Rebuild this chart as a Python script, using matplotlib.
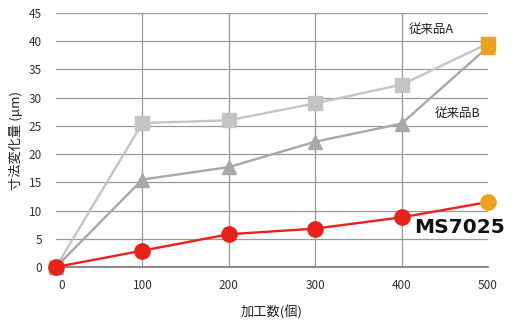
import matplotlib
matplotlib.use("Agg")
import matplotlib.pyplot as plt
import matplotlib.transforms as mtransforms
import numpy as np

plt.rcParams['font.family'] = ['Noto Sans CJK JP', 'DejaVu Sans']

counts = [0, 100, 200, 300, 400, 500]
prod_a = [0, 25.5, 26.0, 29.0, 32.3, 39.6]
prod_b = [0, 15.5, 17.7, 22.2, 25.4, 39.0]
ms7025 = [0, 2.9, 5.8, 6.8, 8.8, 11.5]
yticks = list(range(0, 50, 5))

fig = plt.figure(figsize=(5.3, 3.26), dpi=100)
ax = fig.add_axes([0.1057, 0.181, 0.815, 0.779])

orange = '#f0a020'
for vals, col, mk, ms in [(prod_a, '#c4c4c4', 's', 10),
                           (prod_b, '#a8a8a8', '^', 9.5),
                           (ms7025, '#e8221b', 'o', 11)]:
    ax.plot(counts[:-1], vals[:-1], color=col, lw=1.7, marker=mk, ms=ms,
            clip_on=False, zorder=3)
    ax.plot(counts[-2:], vals[-2:], color=col, lw=1.7, clip_on=False, zorder=3)
    ax.plot(counts[-1], vals[-1], marker=mk, ms=ms, color=orange,
            clip_on=False, zorder=4, ls='none')

ax.set_xlim(0, 500)
ax.set_ylim(0, 45)
ax.set_xticks(counts)
ax.set_yticks(yticks)
ax.grid(True, color='#999999', lw=0.9)
ax.set_axisbelow(True)
xg = ax.get_xgridlines()
xg[0].set_visible(False)
xg[-1].set_visible(False)
for s in ['top', 'right', 'left']:
    ax.spines[s].set_visible(False)
ax.spines['bottom'].set_color('#777777')
ax.spines['bottom'].set_linewidth(1.2)
ax.tick_params(length=0, labelsize=8.5, colors='#333333')
ax.tick_params(axis='x', pad=9)
ax.tick_params(axis='y', pad=10)

# nudge the "0" label a bit right like the original
lbl0 = ax.get_xticklabels()[0]
lbl0.set_transform(lbl0.get_transform() +
                   mtransforms.ScaledTranslation(6 / 100, 0, fig.dpi_scale_trans))

ax.text(0.816, 0.937, '従来品A', transform=ax.transAxes, fontsize=9,
        color='#222222', va='center')
ax.text(0.877, 0.606, '従来品B', transform=ax.transAxes, fontsize=9,
        color='#222222', va='center')
ax.text(0.828, 0.157, 'MS7025', transform=ax.transAxes, fontsize=14.5,
        fontweight='heavy', color='#111111', family='DejaVu Sans', va='center')

ax.set_xlabel('加工数(個)', fontsize=9.5, color='#222222', labelpad=9)
ax.set_ylabel('寸法変化量 (μm)', fontsize=9.5, color='#222222', labelpad=4)

fig.savefig('out.png', dpi=100)
